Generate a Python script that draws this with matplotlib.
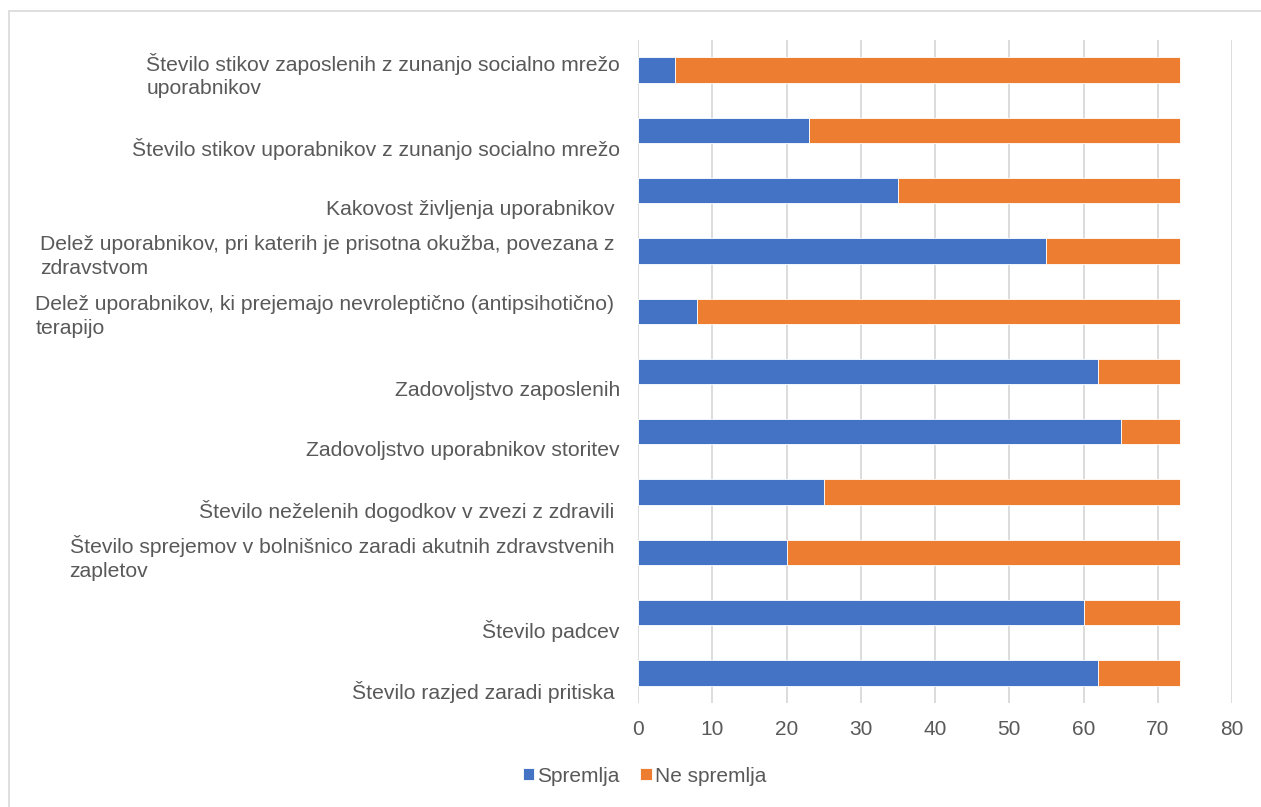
import matplotlib

matplotlib.use("Agg")

import matplotlib.pyplot as plt
from matplotlib.patches import Rectangle
from matplotlib.transforms import blended_transform_factory


categories = [
	"Število stikov zaposlenih z zunanjo socialno mrežo\nuporabnikov",
	"Število stikov uporabnikov z zunanjo socialno mrežo",
	"Kakovost življenja uporabnikov ",
	"Delež uporabnikov, pri katerih je prisotna okužba, povezana z \nzdravstvom",
	"Delež uporabnikov, ki prejemajo nevroleptično (antipsihotično) \nterapijo",
	"Zadovoljstvo zaposlenih",
	"Zadovoljstvo uporabnikov storitev",
	"Število neželenih dogodkov v zvezi z zdravili ",
	"Število sprejemov v bolnišnico zaradi akutnih zdravstvenih \nzapletov",
	"Število padcev",
	"Število razjed zaradi pritiska ",
]
spremlja = [5, 23, 35, 55, 8, 62, 65, 25, 20, 60, 62]
ne_spremlja = [68, 50, 38, 18, 65, 11, 8, 48, 53, 13, 11]
x_ticks = [0, 10, 20, 30, 40, 50, 60, 70, 80]

BLUE = "#4472C4"
ORANGE = "#ED7D31"
TEXT = "#595959"
GRID = "#D9D9D9"

plt.rcParams["font.family"] = ["Liberation Sans", "DejaVu Sans"]

fig = plt.figure(figsize=(12.61, 8.07), dpi=100)
ax = fig.add_axes([638 / 1261, 1 - 703 / 807, (1232 - 638) / 1261, (703 - 40) / 807])

# chart area border (Excel style)
fig.patches.append(Rectangle((9 / 1261, -0.05), 1.1, 1.05 - 11 / 807,
	transform=fig.transFigure, fill=False, edgecolor=GRID, linewidth=1.2))

y = list(range(len(categories)))
ax.barh(y, spremlja, height=0.42, color=BLUE, edgecolor="white", linewidth=0.6, label="Spremlja", zorder=3)
ax.barh(y, ne_spremlja, left=spremlja, height=0.42, color=ORANGE, edgecolor="white", linewidth=0.6,
	label="Ne spremlja", zorder=3)

ax.set_xlim(0, 80)
ax.set_ylim(len(categories) - 0.5, -0.5)
ax.set_xticks(x_ticks)
ax.tick_params(axis="x", length=0, pad=12, labelsize=15, labelcolor=TEXT)
ax.set_yticks([])
ax.grid(axis="x", color=GRID, linewidth=1.3, zorder=0)
for side in ["top", "right", "bottom", "left"]:
	ax.spines[side].set_visible(False)

# category labels, single-line ones sit lower like in the original
trans = blended_transform_factory(ax.transAxes, ax.transData)
for i, label in enumerate(categories):
	dy = 0.09 if "\n" in label else 0.31
	ax.text(-18 / 594, i + dy, label, transform=trans, ha="right", va="center",
		multialignment="left", fontsize=15.2, color=TEXT, linespacing=1.32)

fig.legend(loc="center", bbox_to_anchor=(0.5 + 14 / 1261, 1 - 776 / 807), ncol=2, frameon=False,
	fontsize=15, labelcolor=TEXT, handlelength=0.55, handleheight=0.55, handletextpad=0.15,
	columnspacing=1.0)

fig.savefig("out.png", dpi=100)
